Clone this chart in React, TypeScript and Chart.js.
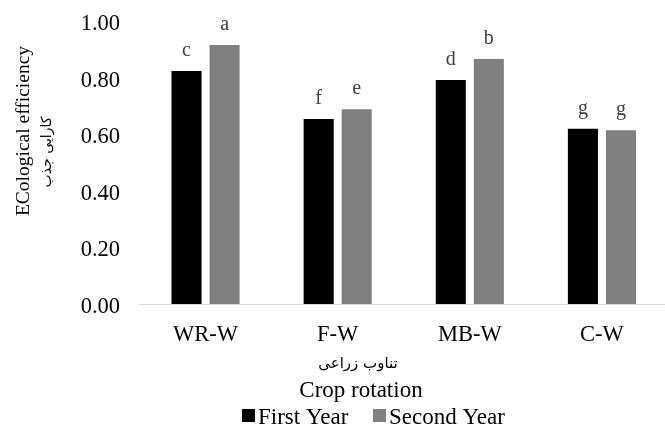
import React, { useEffect, useRef } from "react";
import { Chart, registerables } from "chart.js";

Chart.register(...registerables);

const categories = ["WR-W", "F-W", "MB-W", "C-W"];
const firstYear = [0.825, 0.655, 0.793, 0.62];
const secondYear = [0.917, 0.689, 0.867, 0.615];
const firstLetters = ["c", "f", "d", "g"];
const secondLetters = ["a", "e", "b", "g"];
const yTicks = [0, 0.2, 0.4, 0.6, 0.8, 1.0];
const seriesNames = ["First Year", "Second Year"];
const seriesColors = ["#000000", "#808080"];

const SERIF = "'Liberation Serif', 'Times New Roman', serif";
const ARABIC = "'DejaVu Sans', sans-serif";
const TICK_SIZE = 22.5;

const overlay = {
  id: "overlay",
  afterDatasetsDraw(chart: any) {
    const ctx = chart.ctx;
    const letters = [firstLetters, secondLetters];
    ctx.save();
    ctx.fillStyle = "#404040";
    ctx.font = `20px ${SERIF}`;
    ctx.textAlign = "center";
    ctx.textBaseline = "alphabetic";
    for (let d = 0; d < 2; d++) {
      const meta = chart.getDatasetMeta(d);
      meta.data.forEach((bar: any, i: number) => {
        ctx.fillText(letters[d][i], bar.x, bar.y - 15);
      });
    }
    ctx.restore();
  },
  afterDraw(chart: any) {
    const ctx = chart.ctx;
    const yScale = chart.scales.y;
    ctx.save();
    ctx.fillStyle = "#000";
    // Y tick labels
    ctx.font = `${TICK_SIZE}px ${SERIF}`;
    ctx.textAlign = "right";
    ctx.textBaseline = "middle";
    yTicks.forEach((v) => {
      ctx.fillText(v.toFixed(2), 120, yScale.getPixelForValue(v) + 3);
    });
    // Y title
    ctx.save();
    ctx.translate(24, 131);
    ctx.rotate(-Math.PI / 2);
    ctx.textAlign = "center";
    ctx.textBaseline = "middle";
    ctx.font = `19.5px ${SERIF}`;
    ctx.fillText("ECological efficiency", 0, 0);
    ctx.restore();
    ctx.save();
    ctx.translate(47, 152);
    ctx.rotate(-Math.PI / 2);
    ctx.textAlign = "center";
    ctx.textBaseline = "middle";
    ctx.font = `14px ${ARABIC}`;
    ctx.fillText("کارایی جذب", 0, 0);
    ctx.restore();
    // X titles
    ctx.textAlign = "center";
    ctx.textBaseline = "middle";
    ctx.font = `15px ${ARABIC}`;
    ctx.fillText("تناوب زراعی", 358, 364);
    ctx.font = `23px ${SERIF}`;
    ctx.fillText("Crop rotation", 361, 391);
    // Legend
    ctx.textAlign = "left";
    ctx.textBaseline = "alphabetic";
    ctx.font = `23px ${SERIF}`;
    const items = [
      { x: 242, tx: 258 },
      { x: 373, tx: 389 },
    ];
    items.forEach((it, i) => {
      ctx.fillStyle = seriesColors[i];
      ctx.fillRect(it.x, 409, 13, 13);
      ctx.fillStyle = "#000";
      ctx.fillText(seriesNames[i], it.tx, 424);
    });
    ctx.restore();
  },
};

export default function App() {
  const ref = useRef<HTMLCanvasElement>(null);
  useEffect(() => {
    if (!ref.current) return;
    const chart = new Chart(ref.current, {
      type: "bar",
      data: {
        labels: categories,
        datasets: [
          {
            label: seriesNames[0],
            data: firstYear,
            backgroundColor: seriesColors[0],
            categoryPercentage: 0.576,
            barPercentage: 0.79,
          },
          {
            label: seriesNames[1],
            data: secondYear,
            backgroundColor: seriesColors[1],
            categoryPercentage: 0.576,
            barPercentage: 0.79,
          },
        ],
      },
      options: {
        animation: false,
        responsive: false,
        maintainAspectRatio: false,
        layout: { padding: { top: 21.5, left: 0, right: 0, bottom: 0 } },
        plugins: {
          legend: { display: false },
          tooltip: { enabled: false },
        },
        scales: {
          x: {
            grid: { display: false, drawTicks: false },
            border: { display: true, color: "#d9d9d9", width: 1 },
            ticks: {
              color: "#000",
              font: { family: SERIF, size: TICK_SIZE },
              padding: 18,
            },
            afterFit: (s: any) => {
              s.height = 124;
              s.paddingLeft = 0;
              s.paddingRight = 0;
            },
          },
          y: {
            min: 0,
            max: 1,
            afterBuildTicks: (s: any) => {
              s.ticks = yTicks.map((v) => ({ value: v }));
            },
            grid: { display: false, drawTicks: false },
            border: { display: false },
            ticks: { display: false },
            afterFit: (s: any) => {
              s.width = 139.5;
              s.paddingTop = 0;
              s.paddingBottom = 0;
            },
          },
        },
      },
      plugins: [overlay],
    });
    return () => chart.destroy();
  }, []);
  return (
    <div
      style={{
        position: "fixed",
        left: 0,
        top: 0,
        width: 665,
        height: 428,
        overflow: "hidden",
        background: "#fff",
      }}
    >
      <canvas ref={ref} width={668} height={428} style={{ display: "block" }} />
    </div>
  );
}
